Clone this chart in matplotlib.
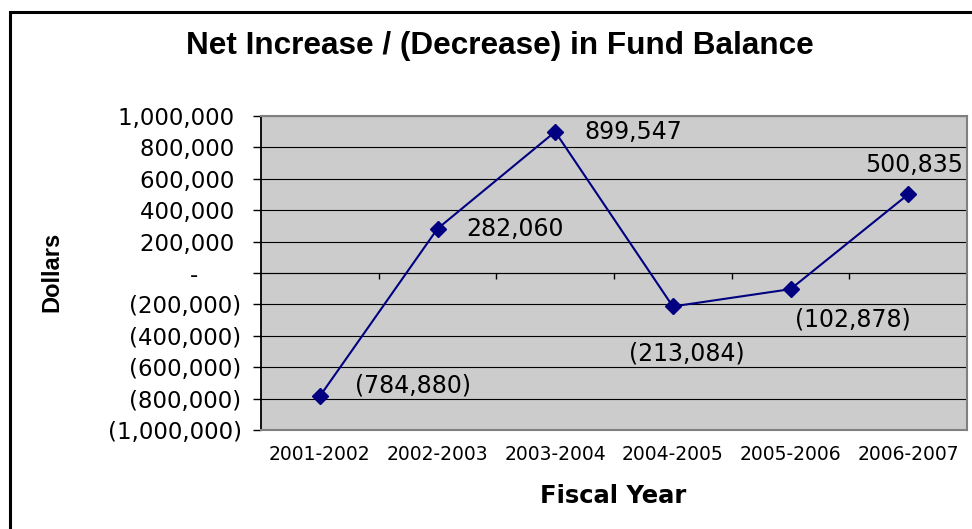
import matplotlib
matplotlib.use('Agg')
import matplotlib.pyplot as plt
from matplotlib.ticker import FuncFormatter, FixedLocator
from matplotlib.patches import Rectangle

years = ['2001-2002', '2002-2003', '2003-2004', '2004-2005', '2005-2006', '2006-2007']
net_change = [-784880, 282060, 899547, -213084, -102878, 500835]

# label offsets (points) picked to sit like the Excel labels
label_offsets = [(25, 8, 'left'), (21, 0, 'left'), (21, 0, 'left'),
                 (10, -34, 'center'), (45, -22, 'center'), (4, 21, 'center')]


def money(v):
    v = int(round(v))
    if v == 0:
        return '-'
    if v < 0:
        return f'({-v:,})'
    return f'{v:,}'


def money_tick(v, pos):
    v = int(round(v))
    if v == 0:
        return '-      '
    if v < 0:
        return f'({-v:,})'
    return f'{v:,} '


fig = plt.figure(figsize=(9.72, 5.29), dpi=100)
fig.patch.set_facecolor('white')

# outer chart border (runs off the right and bottom edge)
fig.patches.append(Rectangle((10 / 972, -0.05), 1.2, 1 - 12 / 529 + 0.05,
                             transform=fig.transFigure, fill=False,
                             edgecolor='black', linewidth=2.2))

ax = fig.add_axes([261 / 972, 99 / 529, 706 / 972, 314 / 529])
ax.set_facecolor('#cccccc')

x = list(range(len(years)))
ax.plot(x, net_change, color='#000080', linewidth=1.5, marker='D',
        markersize=8, markerfacecolor='#000080', markeredgecolor='#000080', zorder=3)

for i, v in enumerate(net_change):
    dx, dy, ha = label_offsets[i]
    ax.annotate(money(v), (i, v), xytext=(dx, dy), textcoords='offset points',
                ha=ha, va='center', fontsize=17, family='DejaVu Sans', color='black')

ax.set_xlim(-0.5, len(years) - 0.5)
ax.set_ylim(-1000000, 1000000)
ax.yaxis.set_major_locator(FixedLocator(range(-1000000, 1000001, 200000)))
ax.yaxis.set_major_formatter(FuncFormatter(money_tick))
ax.grid(axis='y', color='black', linewidth=0.8)
ax.set_axisbelow(True)

ax.set_xticks(x)
ax.set_xticklabels(years, fontsize=13.5, family='DejaVu Sans')
ax.tick_params(axis='x', length=0, pad=11)
ax.tick_params(axis='y', length=6, width=1, color='black', pad=8,
               labelsize=16.5, labelfontfamily='DejaVu Sans')

for side in ['top', 'right', 'bottom']:
    ax.spines[side].set_color('#808080')
    ax.spines[side].set_linewidth(1.5)
ax.spines['left'].set_color('black')
ax.spines['left'].set_linewidth(1.3)

# category axis crossing at zero, tick marks between categories
zero_axis = ax.secondary_xaxis(0.5)
zero_axis.xaxis.set_ticks_position('bottom')
zero_axis.set_xticks([i + 0.5 for i in range(len(years) - 1)])
zero_axis.tick_params(axis='x', direction='out', length=4, width=1, color='black',
                      labelbottom=False, labeltop=False)
for sp in zero_axis.spines.values():
    sp.set_color('black')
    sp.set_linewidth(0.8)

fig.text(500 / 972, 1 - 46 / 529, 'Net Increase / (Decrease) in Fund Balance',
         ha='center', va='center', fontsize=22.7, fontweight='bold', family='Liberation Sans')
fig.text(613 / 972, 1 - 496 / 529, 'Fiscal Year', ha='center', va='center',
         fontsize=17.5, fontweight='bold', family='DejaVu Sans')
fig.text(52 / 972, 1 - 272 / 529, 'Dollars', ha='center', va='center', rotation=90,
         fontsize=17, fontweight='bold', family='Liberation Sans')

fig.savefig('out.png', dpi=100)
